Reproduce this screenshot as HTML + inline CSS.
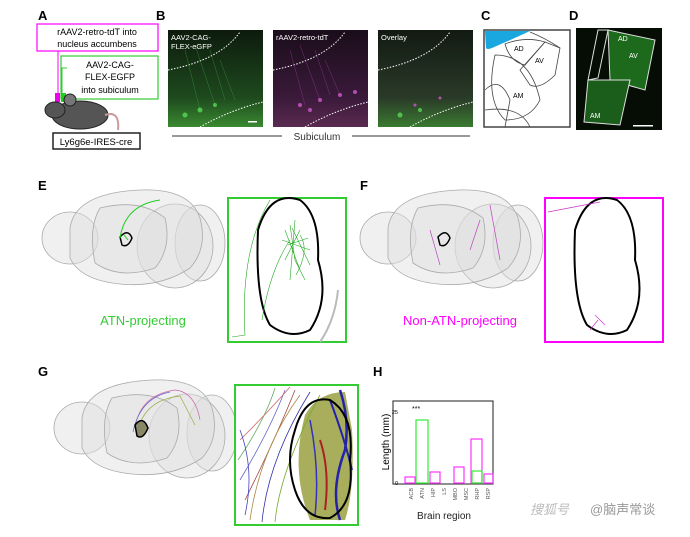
<!DOCTYPE html>
<html><head><meta charset="utf-8"><style>
body{margin:0;background:#fff;width:690px;height:532px;overflow:hidden;font-family:"Liberation Sans","Noto Sans CJK SC",sans-serif}
</style></head><body>
<svg width="690" height="532" xmlns="http://www.w3.org/2000/svg" font-family="Liberation Sans, Noto Sans CJK SC, sans-serif">
<defs>
<linearGradient id="gr" x1="0" y1="0" x2="0" y2="1"><stop offset="0" stop-color="#0d1a0d"/><stop offset="0.7" stop-color="#1e4a1e"/><stop offset="1" stop-color="#3a8a30"/></linearGradient>
<linearGradient id="mg" x1="0" y1="0" x2="0" y2="1"><stop offset="0" stop-color="#1a0d1a"/><stop offset="0.7" stop-color="#3a1a3a"/><stop offset="1" stop-color="#5a2a50"/></linearGradient>
<linearGradient id="ov" x1="0" y1="0" x2="0" y2="1"><stop offset="0" stop-color="#121a12"/><stop offset="0.7" stop-color="#2a3a28"/><stop offset="1" stop-color="#3a7a30"/></linearGradient>
<g id="brain">
<g fill="#ddd" fill-opacity="0.45" stroke="#aaa" stroke-width="0.8">
<ellipse cx="30" cy="50" rx="28" ry="26"/>
<ellipse cx="160" cy="55" rx="25" ry="38"/>
<ellipse cx="135" cy="58" rx="38" ry="42"/>
<path d="M30 40Q35 5 100 2Q150 0 160 30Q168 60 150 80Q120 100 80 96Q40 92 30 70Z"/>
<path d="M60 20Q100 10 125 30Q132 60 115 80Q80 92 55 75Q48 40 60 20Z"/>
</g>
</g>
</defs>
<g font-weight="bold" font-size="13">
<text x="38" y="20">A</text><text x="156" y="20">B</text><text x="481" y="20">C</text><text x="569" y="20">D</text>
<text x="38" y="190">E</text><text x="360" y="190">F</text><text x="38" y="376">G</text><text x="373" y="376">H</text>
</g>
<!-- A -->
<rect x="37" y="24" width="121" height="27" fill="#fff" stroke="#f0f" stroke-width="1.2"/>
<text x="97" y="35" font-size="9" text-anchor="middle">rAAV2-retro-tdT into</text>
<text x="97" y="47" font-size="9" text-anchor="middle">nucleus accumbens</text>
<rect x="61" y="56" width="97" height="43" fill="#fff" stroke="#3c3" stroke-width="1.2"/>
<text x="110" y="68" font-size="9" text-anchor="middle">AAV2-CAG-</text>
<text x="110" y="80" font-size="9" text-anchor="middle">FLEX-EGFP</text>
<text x="110" y="93" font-size="9" text-anchor="middle">into subiculum</text>
<path d="M58 51V96" stroke="#f0f" fill="none"/><path d="M67 68H62V96" stroke="#3c3" fill="none"/>
<rect x="55" y="93" width="5" height="9" fill="#e0e"/><rect x="61" y="93" width="5" height="9" fill="#2c2"/>
<ellipse cx="80" cy="115" rx="28" ry="14" fill="#555" stroke="#222"/>
<ellipse cx="55" cy="110" rx="10" ry="8" fill="#555" stroke="#222"/>
<circle cx="70" cy="100" r="6" fill="#777" stroke="#222"/>
<path d="M105 115Q120 110 118 130" stroke="#c99" fill="none" stroke-width="2"/>
<rect x="53" y="133" width="87" height="16" fill="#fff" stroke="#222" stroke-width="1.5"/>
<text x="96" y="145" font-size="9.5" text-anchor="middle">Ly6g6e-IRES-cre</text>
<!-- B -->
<rect x="168" y="30" width="95" height="97" fill="url(#gr)"/>
<rect x="273" y="30" width="95" height="97" fill="url(#mg)"/>
<rect x="378" y="30" width="95" height="97" fill="url(#ov)"/>
<g stroke="#fff" stroke-dasharray="1.5 1.5" fill="none" stroke-width="1">
<path d="M168 70Q220 60 240 32"/><path d="M200 127Q230 110 263 102"/>
<path d="M273 70Q325 60 345 32"/><path d="M305 127Q335 110 368 102"/>
<path d="M378 70Q430 60 450 32"/><path d="M410 127Q440 110 473 102"/>
</g>
<g stroke="#4a4" stroke-width="0.5" opacity="0.6"><path d="M185 50L200 110M195 45L215 105M210 50L225 100M220 60L235 100"/></g>
<g stroke="#a4a" stroke-width="0.5" opacity="0.6"><path d="M290 50L305 105M300 45L320 100M315 50L330 95M325 60L340 95"/></g>
<g fill="#d05ad0" opacity="0.8"><circle cx="300" cy="105" r="2"/><circle cx="320" cy="100" r="2"/><circle cx="340" cy="95" r="2"/><circle cx="310" cy="110" r="2"/><circle cx="355" cy="92" r="2"/><circle cx="415" cy="105" r="1.5"/><circle cx="440" cy="98" r="1.5"/></g>
<g fill="#6f6" opacity="0.6"><circle cx="185" cy="115" r="2.5"/><circle cx="200" cy="110" r="2.5"/><circle cx="215" cy="105" r="2"/><circle cx="400" cy="115" r="2.5"/><circle cx="420" cy="110" r="2"/></g>
<rect x="248" y="121" width="9" height="1.5" fill="#fff"/>
<text x="171" y="40" font-size="7.5" fill="#fff">AAV2-CAG-</text><text x="171" y="49" font-size="7.5" fill="#fff">FLEX-eGFP</text>
<text x="276" y="40" font-size="7.5" fill="#fff">rAAV2-retro-tdT</text>
<text x="381" y="40" font-size="7.5" fill="#fff">Overlay</text>
<line x1="172" y1="136" x2="282" y2="136" stroke="#333"/><line x1="352" y1="136" x2="470" y2="136" stroke="#333"/>
<text x="317" y="140" font-size="10" text-anchor="middle" fill="#333">Subiculum</text>
<!-- C -->
<rect x="484" y="30" width="86" height="97" fill="#fff" stroke="#444" stroke-width="1.5"/>
<path d="M485 31H530Q515 38 492 48Q487 50 486 48Z" fill="#1aa7e0"/>
<g fill="none" stroke="#444" stroke-width="0.8">
<path d="M530 32Q545 38 560 48"/><path d="M505 44Q525 36 545 42L525 65Q510 62 505 44Z"/>
<path d="M545 42L560 48L555 75Q540 90 530 85L520 70Z"/><path d="M495 55Q530 55 540 100Q530 120 505 120Q485 100 495 55Z"/>
<path d="M485 90Q500 75 510 100L505 127"/><path d="M485 110Q520 105 530 127"/>
</g>
<text x="514" y="51" font-size="7">AD</text><text x="535" y="63" font-size="7">AV</text><text x="513" y="98" font-size="7">AM</text>
<!-- D -->
<rect x="576" y="28" width="86" height="102" fill="#050d05"/>
<path d="M608 30L655 40L645 90L610 80Z" fill="#1d6a1d" stroke="#ddd"/>
<path d="M588 80L630 80L620 125L584 122Z" fill="#1b5e1b" stroke="#ddd"/>
<path d="M598 30L608 30L598 78L588 80Z" fill="none" stroke="#ddd"/>
<text x="618" y="41" font-size="7" fill="#fff">AD</text><text x="629" y="58" font-size="7" fill="#fff">AV</text><text x="590" y="118" font-size="7" fill="#fff">AM</text>
<rect x="633" y="125" width="20" height="1.5" fill="#fff"/>
<!-- brains -->
<use href="#brain" transform="translate(40,188)"/>
<use href="#brain" transform="translate(358,188)"/>
<use href="#brain" transform="translate(52,378)"/>
<!-- E -->
<path d="M120 237Q128 228 132 238Q128 248 122 245Z" fill="none" stroke="#000" stroke-width="1.5"/>
<path d="M124 235L128 240M120 238Q125 205 160 200" stroke="#2c2" stroke-width="1" fill="none"/>
<rect x="228" y="198" width="118" height="144" fill="#fff" stroke="#3c3" stroke-width="2"/>
<path d="M338 290Q335 320 320 342" stroke="#bbb" stroke-width="2" fill="none"/>
<path d="M258 230Q270 190 300 200Q320 215 318 260Q330 300 310 330Q290 340 270 325Q255 300 258 230Z" fill="none" stroke="#000" stroke-width="2"/>
<g stroke="#2a2" fill="none" stroke-width="0.6"><path d="M285 230L300 270M290 225L295 260L305 280M282 240L310 250M285 260L300 230M295 220L290 280M300 235Q310 250 296 275M292 228L310 265M288 245L308 238M262 320Q270 270 290 240M270 200Q240 250 245 335L232 337"/></g>
<text x="143" y="325" font-size="13" fill="#3c3" text-anchor="middle">ATN-projecting</text>
<!-- F -->
<path d="M438 237Q446 228 450 238Q446 248 440 245Z" fill="none" stroke="#000" stroke-width="1.5"/>
<g stroke="#b4b" fill="none" stroke-width="0.7"><path d="M430 230L440 265M490 205L500 260M480 220L470 250"/></g>
<rect x="545" y="198" width="118" height="144" fill="#fff" stroke="#f0f" stroke-width="2"/>
<path d="M575 230Q587 190 617 200Q637 215 635 260Q647 300 627 330Q607 340 587 325Q572 300 575 230Z" fill="none" stroke="#000" stroke-width="2"/>
<path d="M548 212L600 202M595 315L605 325M598 320L590 330" stroke="#c3c" stroke-width="0.7"/>
<text x="460" y="325" font-size="13" fill="#f0f" text-anchor="middle">Non-ATN-projecting</text>
<!-- G -->
<g stroke-width="0.7" fill="none"><path d="M135 428Q140 395 175 390Q195 392 200 420" stroke="#c6a"/><path d="M138 430Q145 400 180 396L195 425" stroke="#9a4"/><path d="M133 432Q140 398 170 392" stroke="#66c"/></g>
<path d="M135 425Q143 415 148 428Q143 440 137 436Z" fill="#886" stroke="#000" stroke-width="1.5"/>
<rect x="235" y="385" width="123" height="140" fill="#fff" stroke="#3c3" stroke-width="2"/>
<path d="M305 415Q318 392 345 392L352 430Q355 490 345 520L310 520Q290 470 305 415Z" fill="#9aa040" opacity="0.85"/>
<g fill="none" stroke-width="0.8">
<path d="M240 480Q270 430 285 390" stroke="#66c"/><path d="M245 500Q275 440 295 390" stroke="#a44"/>
<path d="M238 460Q265 420 275 388" stroke="#6a6"/><path d="M250 520Q260 450 300 395" stroke="#a84"/>
<path d="M262 522Q268 460 310 392" stroke="#33a"/><path d="M240 440Q270 410 290 387" stroke="#c66"/>
<path d="M275 522Q280 470 320 395" stroke="#7a3"/><path d="M245 515Q255 470 240 430" stroke="#44b"/>
<path d="M340 390Q350 420 345 450Q330 490 340 520" stroke="#22a" stroke-width="2.5"/>
<path d="M320 440Q330 470 325 510" stroke="#a22" stroke-width="2"/>
<path d="M310 420Q320 470 315 515" stroke="#33b" stroke-width="1.5"/>
<path d="M330 400Q345 440 352 470" stroke="#22a" stroke-width="2"/>
</g>
<path d="M295 430Q305 395 330 400Q355 415 350 460Q355 505 330 518Q305 520 295 490Q285 460 295 430Z" fill="none" stroke="#000" stroke-width="2"/>
<!-- H -->
<rect x="393" y="401" width="100" height="83" fill="#fff" stroke="#444" stroke-width="1.2"/>
<g fill="none" stroke-width="1.2">
<rect x="416" y="420" width="12" height="63" stroke="#3e3"/>
<rect x="405" y="477" width="10" height="6" stroke="#f3f"/>
<rect x="430" y="472" width="10" height="11" stroke="#f3f"/>
<rect x="454" y="467" width="10" height="16" stroke="#f3f"/>
<rect x="471" y="439" width="11" height="44" stroke="#f3f"/>
<rect x="484" y="474" width="9" height="9" stroke="#f3f"/>
<rect x="472" y="471" width="10" height="12" stroke="#3e3"/>
</g>
<text x="412" y="411" font-size="7">***</text>
<text x="398" y="414" font-size="5.5" text-anchor="end">25</text><text x="398" y="485" font-size="5.5" text-anchor="end">0</text>
<text transform="translate(389,442) rotate(-90)" font-size="10" text-anchor="middle">Length (mm)</text>
<g font-size="5.5" fill="#555">
<text transform="translate(413,488) rotate(-90)" text-anchor="end">ACB</text>
<text transform="translate(424,488) rotate(-90)" text-anchor="end">ATN</text>
<text transform="translate(435,488) rotate(-90)" text-anchor="end">HIP</text>
<text transform="translate(446,488) rotate(-90)" text-anchor="end">LS</text>
<text transform="translate(457,488) rotate(-90)" text-anchor="end">MBO</text>
<text transform="translate(468,488) rotate(-90)" text-anchor="end">MSC</text>
<text transform="translate(479,488) rotate(-90)" text-anchor="end">RHP</text>
<text transform="translate(490,488) rotate(-90)" text-anchor="end">RSP</text>
</g>
<text x="444" y="519" font-size="10" text-anchor="middle" fill="#222">Brain region</text>
<text x="530" y="514" font-size="13" fill="#bbb" font-style="italic">搜狐号</text>
<text x="590" y="514" font-size="13" fill="#999">@脑声常谈</text>
</svg>
</body></html>
